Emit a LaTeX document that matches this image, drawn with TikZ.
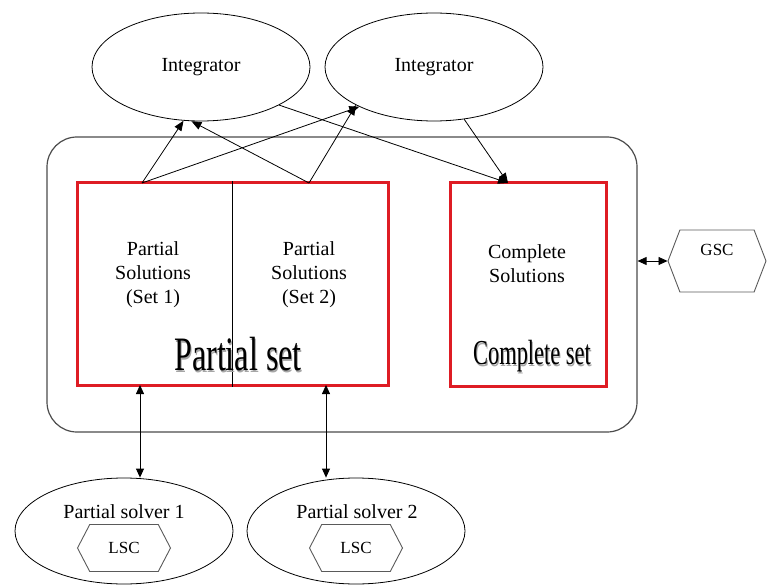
\documentclass[tikz,border=0pt]{standalone}
\usepackage{fontspec}
\usepackage{graphicx}
\setmainfont{Liberation Serif}
\usetikzlibrary{shapes.geometric,shapes.symbols,arrows.meta}
\definecolor{setred}{RGB}{222,28,36}
\definecolor{hexgray}{RGB}{90,90,90}
% condensed caption with a soft shadow
\newcommand{\settitle}[3]{\scalebox{#2}[1]{\fontsize{#1}{#1}\selectfont
  \makebox[0pt][l]{\raisebox{-1.5pt}{\hspace{1.5pt}\color{black!35}#3}}#3}}

\begin{document}
\begin{tikzpicture}[x=1pt,y=-1pt,
  every node/.style={font=\fontsize{20}{24}\selectfont},
  oval/.style={draw,ellipse,line width=0.8pt,minimum width=218pt,minimum height=108pt,inner sep=0pt},
  hexa/.style={draw=hexgray,line width=0.9pt,signal,signal to=west and east,inner sep=0pt,font=\fontsize{17}{19}\selectfont},
  setbox/.style={draw=setred,line width=3pt,inner sep=0pt},
  link/.style={-{Triangle[length=10pt,width=8pt]},line width=0.8pt},
  dlink/.style={{Triangle[length=9pt,width=8pt]}-{Triangle[length=9pt,width=8pt]},line width=0.8pt}]
  \useasboundingbox (0,0) rectangle (767,585);

  % integrators
  \node[oval] (int1) at (201,67) {Integrator};
  \node[oval] (int2) at (434,67) {Integrator};

  % shared store with the two sets
  \node[draw=black!70,line width=1.2pt,rounded corners=30pt,minimum width=590pt,minimum height=295pt] (store) at (342,284.5) {};
  \node[setbox,minimum width=311pt,minimum height=202pt] (pset) at (232.5,284) {};
  \node[setbox,minimum width=156pt,minimum height=203pt] (cset) at (528,284.5) {};
  \draw[line width=0.8pt] (pset.north) -- (pset.south);

  \node[align=center] (sol1) at (153,275) {Partial\\Solutions\\(Set 1)};
  \node[align=center] (sol2) at (309,275) {Partial\\Solutions\\(Set 2)};
  \node[align=center] (solc) at (527,264) {Complete\\Solutions};
  \node (ptitle) at (238,355) {\settitle{48}{0.67}{Partial set}};
  \node (ctitle) at (532,357) {\settitle{35}{0.64}{Complete set}};

  % global controller
  \node[hexa,minimum width=98pt,minimum height=62pt,signal pointer angle=138] (gsc) at (717,261) {};
  \node[font=\fontsize{17}{19}\selectfont] (gsclabel) at (717,250) {GSC};

  % partial solvers
  \node[oval,minimum height=106pt] (ps1) at (124,531) {};
  \node[oval,minimum height=106pt] (ps2) at (356,531) {};
  \node (ps1label) at (124,512) {Partial solver 1};
  \node (ps2label) at (357,512) {Partial solver 2};
  \node[hexa,minimum width=93pt,minimum height=47pt,signal pointer angle=125] (lsc1) at (124,548) {LSC};
  \node[hexa,minimum width=93pt,minimum height=47pt,signal pointer angle=125] (lsc2) at (356,548) {LSC};

  % connectors
  \coordinate (p1) at (142,183);
  \coordinate (p2) at (309,183);
  \coordinate (c1) at (508,183);
  \coordinate (s1) at (140,385);
  \coordinate (s2) at (326,385);
  \draw[link] (p1) -- (int1.-108);
  \draw[link] (p1) -- (int2.208);
  \draw[link] (p2) -- (int1.-100);
  \draw[link] (p2) -- (int2.206);
  \draw[link] (int1.-26) -- (c1);
  \draw[link] (int2.-60) -- (c1);
  \draw[dlink] (s1) -- (s1 |- ps1.north);
  \draw[dlink] (s2) -- (s2 |- ps2.north);
  \draw[dlink] (gsc.west -| store.east) -- (gsc.west);
\end{tikzpicture}
\end{document}
